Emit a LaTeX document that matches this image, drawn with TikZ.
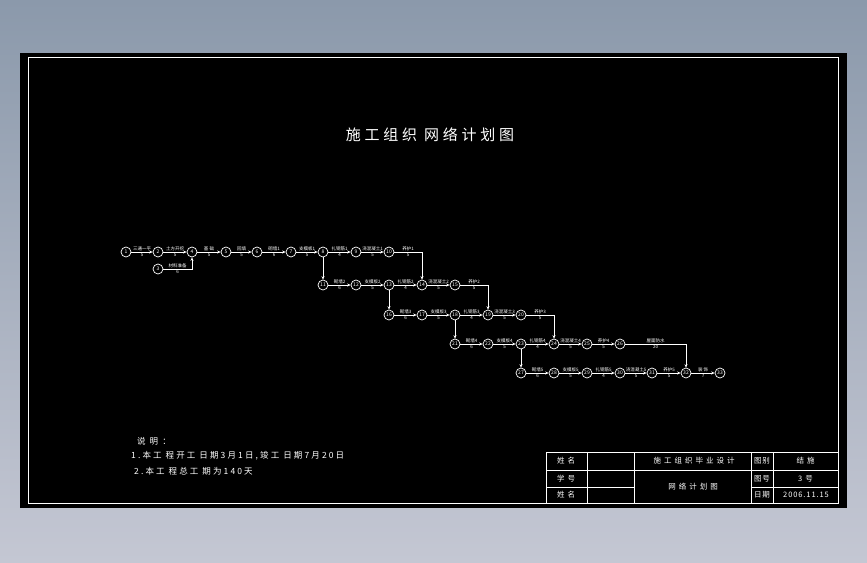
\documentclass[tikz,border=0pt]{standalone}
\usepackage{fontspec}
\setmainfont{Noto Sans CJK SC}
\newfontfamily\cjk{Noto Sans CJK SC}
\newfontfamily\cjkwide[LetterSpace=25]{Noto Sans CJK SC}
\newfontfamily\cjkwider[LetterSpace=40]{Noto Sans CJK SC}
\newfontfamily\cjkmid[LetterSpace=12]{Noto Sans CJK SC}
\usetikzlibrary{arrows.meta,calc}
\definecolor{bgtop}{RGB}{139,153,171}
\definecolor{bgbot}{RGB}{196,199,211}
\tikzset{
  circ/.style={circle,draw=white,fill=black,line width=0.7pt,minimum size=10pt,inner sep=0pt,text=white,font=\cjk\fontsize{5}{5}\selectfont},
  arr/.style={draw=white,line width=0.7pt,-{Stealth[length=3.5pt,width=3pt]}},
  lab/.style={text=white,font=\cjk\fontsize{4.5}{5}\selectfont,inner sep=1pt},
  dur/.style={text=white,font=\cjk\fontsize{4.5}{5}\selectfont,inner sep=1pt},
  tb/.style={draw=white,line width=0.7pt},
  tbt/.style={text=white,font=\cjkwider\fontsize{7.5}{8}\selectfont,inner sep=0pt},
  tbn/.style={text=white,font=\cjkmid\fontsize{7.5}{8}\selectfont,inner sep=0pt},
  note/.style={text=white,font=\cjkwide\fontsize{8.5}{9}\selectfont,inner sep=0pt,anchor=west},
}
\begin{document}
\begin{tikzpicture}[x=1pt,y=-1pt]
\useasboundingbox (0,0) rectangle (867,562);
\shade[top color=bgtop,bottom color=bgbot] (0,0) rectangle (867,562);
\fill[black] (20,53) rectangle (847,508);
\draw[white,line width=1pt] (28.5,57.5) rectangle (838,503);
% title
\node[text=white,font=\cjkwide\fontsize{15}{16}\selectfont,inner sep=0pt] (title) at (430,135) {施工组织\ 网络计划图};
% nodes
\node[circ] (n1) at (126,252) {1};
\node[circ] (n2) at (158,252) {2};
\node[circ] (n3) at (158,269) {3};
\node[circ] (n4) at (192,252) {4};
\node[circ] (n5) at (226,252) {5};
\node[circ] (n6) at (257,252) {6};
\node[circ] (n7) at (291,252) {7};
\node[circ] (n8) at (323,252) {8};
\node[circ] (n9) at (356,252) {9};
\node[circ] (n10) at (389,252) {10};
\node[circ] (n11) at (323,285) {11};
\node[circ] (n12) at (356,285) {12};
\node[circ] (n13) at (389,285) {13};
\node[circ] (n14) at (422,285) {14};
\node[circ] (n15) at (455,285) {15};
\node[circ] (n16) at (389,315) {16};
\node[circ] (n17) at (422,315) {17};
\node[circ] (n18) at (455,315) {18};
\node[circ] (n19) at (488,315) {19};
\node[circ] (n20) at (521,315) {20};
\node[circ] (n21) at (455,344) {21};
\node[circ] (n22) at (488,344) {22};
\node[circ] (n23) at (521,344) {23};
\node[circ] (n24) at (554,344) {24};
\node[circ] (n25) at (587,344) {25};
\node[circ] (n26) at (620,344) {26};
\node[circ] (n27) at (521,373) {27};
\node[circ] (n28) at (554,373) {28};
\node[circ] (n29) at (587,373) {29};
\node[circ] (n30) at (620,373) {30};
\node[circ] (n31) at (652,373) {31};
\node[circ] (n32) at (686,373) {32};
\node[circ] (n33) at (720,373) {33};
% row 1
\draw[arr] (n1) -- node[lab,above]{三通一平} node[dur,below]{5} (n2);
\draw[arr] (n2) -- node[lab,above]{土方开挖} node[dur,below]{5} (n4);
\draw[arr] (n3) -| node[lab,above,pos=0.25]{材料准备} node[dur,below,pos=0.25]{6} (n4);
\draw[arr] (n4) -- node[lab,above]{基\ 础} node[dur,below]{5} (n5);
\draw[arr] (n5) -- node[lab,above]{回填} node[dur,below]{5} (n6);
\draw[arr] (n6) -- node[lab,above]{砌墙1} node[dur,below]{6} (n7);
\draw[arr] (n7) -- node[lab,above]{支模板1} node[dur,below]{5} (n8);
\draw[arr] (n8) -- node[lab,above]{扎钢筋1} node[dur,below]{4} (n9);
\draw[arr] (n9) -- node[lab,above]{浇混凝土1} node[dur,below]{5} (n10);
\draw[arr] (n10) -| node[lab,above,pos=0.25]{养护1} node[dur,below,pos=0.25]{5} (n14);
\draw[arr] (n8) -- (n11);
% row 2
\draw[arr] (n11) -- node[lab,above]{砌墙2} node[dur,below]{6} (n12);
\draw[arr] (n12) -- node[lab,above]{支模板2} node[dur,below]{5} (n13);
\draw[arr] (n13) -- node[lab,above]{扎钢筋2} node[dur,below]{4} (n14);
\draw[arr] (n14) -- node[lab,above]{浇混凝土2} node[dur,below]{5} (n15);
\draw[arr] (n15) -| node[lab,above,pos=0.25]{养护2} node[dur,below,pos=0.25]{5} (n19);
\draw[arr] (n13) -- (n16);
% row 3
\draw[arr] (n16) -- node[lab,above]{砌墙3} node[dur,below]{6} (n17);
\draw[arr] (n17) -- node[lab,above]{支模板3} node[dur,below]{5} (n18);
\draw[arr] (n18) -- node[lab,above]{扎钢筋3} node[dur,below]{4} (n19);
\draw[arr] (n19) -- node[lab,above]{浇混凝土3} node[dur,below]{5} (n20);
\draw[arr] (n20) -| node[lab,above,pos=0.25]{养护3} node[dur,below,pos=0.25]{5} (n24);
\draw[arr] (n18) -- (n21);
% row 4
\draw[arr] (n21) -- node[lab,above]{砌墙4} node[dur,below]{6} (n22);
\draw[arr] (n22) -- node[lab,above]{支模板4} node[dur,below]{5} (n23);
\draw[arr] (n23) -- node[lab,above]{扎钢筋4} node[dur,below]{4} (n24);
\draw[arr] (n24) -- node[lab,above]{浇混凝土4} node[dur,below]{5} (n25);
\draw[arr] (n25) -- node[lab,above]{养护4} node[dur,below]{5} (n26);
\draw[arr] (n26) -| node[lab,above,pos=0.25]{屋面防水} node[dur,below,pos=0.25]{20} (n32);
\draw[arr] (n23) -- (n27);
% row 5
\draw[arr] (n27) -- node[lab,above]{砌墙5} node[dur,below]{6} (n28);
\draw[arr] (n28) -- node[lab,above]{支模板5} node[dur,below]{5} (n29);
\draw[arr] (n29) -- node[lab,above]{扎钢筋5} node[dur,below]{4} (n30);
\draw[arr] (n30) -- node[lab,above]{浇混凝土5} node[dur,below]{5} (n31);
\draw[arr] (n31) -- node[lab,above]{养护5} node[dur,below]{5} (n32);
\draw[arr] (n32) -- node[lab,above]{装\ 饰} node[dur,below]{7} (n33);
% notes
\node[note] (s0) at (137,441) {说\ 明\ ：};
\node[note] (s1) at (131,456) {1.本工\ 程开工\ 日期3月1日,竣工\ 日期7月20日};
\node[note] (s2) at (134,471) {2.本工\ 程总工\ 期为140天};
% title block
\draw[tb] (546,452) rectangle (838,503);
\draw[tb] (546,470) -- (634,470);
\draw[tb] (546,487) -- (634,487);
\draw[tb] (751,470) -- (838,470);
\draw[tb] (751,487) -- (838,487);
\draw[tb] (634,470) -- (751,470);
\draw[tb] (587,452) -- (587,503);
\draw[tb] (634,452) -- (634,503);
\draw[tb] (751,452) -- (751,503);
\draw[tb] (773,452) -- (773,503);
\node[tbt] (t1) at (566,461) {姓名};
\node[tbt] (t2) at (566,478.5) {学号};
\node[tbt] (t3) at (566,495) {姓名};
\node[tbt] (t4) at (694,461) {施工组织毕业设计};
\node[tbt] (t5) at (693,486.5) {网络计划图};
\node[tbn] (t6) at (762,461) {图别};
\node[tbn] (t7) at (762,478.5) {图号};
\node[tbn] (t8) at (762,495) {日期};
\node[tbt] (t9) at (805.5,461) {结施};
\node[tbt] (t10) at (805.5,478.5) {3号};
\node[tbn] (t11) at (806,495) {2006.11.15};
\end{tikzpicture}
\end{document}
